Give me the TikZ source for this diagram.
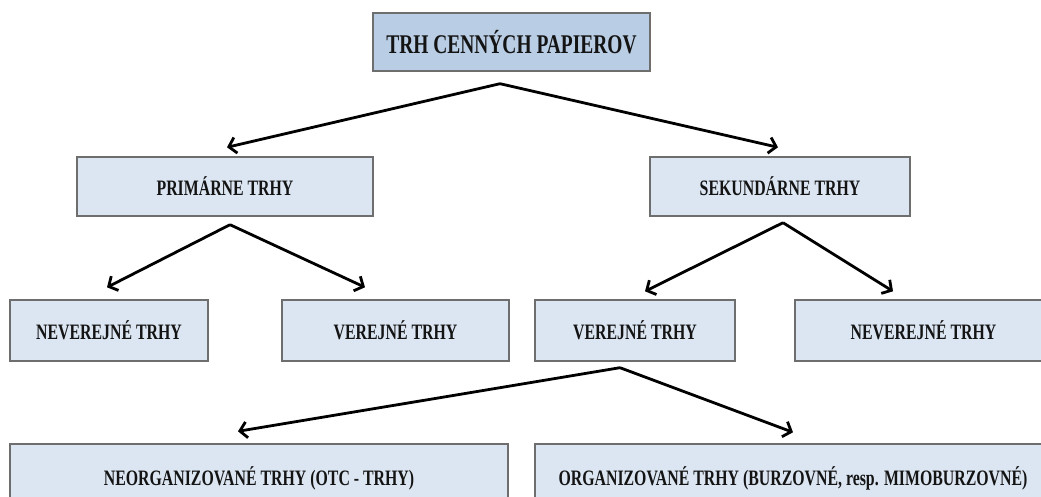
\documentclass[tikz,border=0pt]{standalone}
\usepackage{fontspec}
\setmainfont{Liberation Serif}
\usepackage{graphicx}
\usetikzlibrary{arrows.meta}
\definecolor{topfill}{HTML}{B9CDE5}
\definecolor{boxfill}{HTML}{DCE6F2}
\definecolor{boxline}{HTML}{6E6E6E}
\definecolor{txt}{HTML}{141414}
\newcommand\narrowtext[1]{\scalebox{0.72}[1]{\bfseries #1}}
\newcommand\lowtext[1]{\raisebox{-13pt}[0pt][0pt]{\narrowtext{#1}}}
\tikzset{
  box/.style={draw=boxline, line width=1.4pt, fill=boxfill, inner sep=0pt,
    font=\fontsize{22}{24}\selectfont, text=txt},
  topbox/.style={box, fill=topfill, font=\fontsize{27}{29}\selectfont},
  arr/.style={line width=2.8pt, line join=miter,
    -{Straight Barb[length=7pt,width=16pt,line width=2.8pt]}}
}
\begin{document}
\begin{tikzpicture}[x=1pt,y=-1pt]
\useasboundingbox (0,0) rectangle (1041,497);
\fill[white] (0,0) rectangle (1041,497);
\begin{scope}
\clip (0,0) rectangle (1041,497);
\node[topbox, minimum width=277pt, minimum height=58pt] (top) at (511.5,42) {\narrowtext{TRH CENNÝCH PAPIEROV}};
\node[box, minimum width=296pt, minimum height=59pt] (prim) at (225,186.5) {\narrowtext{PRIMÁRNE TRHY}};
\node[box, minimum width=260pt, minimum height=59pt] (sek) at (780,186.5) {\narrowtext{SEKUNDÁRNE TRHY}};
\node[box, minimum width=198pt, minimum height=61pt] (nevL) at (109,330.5) {\narrowtext{NEVEREJNÉ TRHY}};
\node[box, minimum width=227pt, minimum height=61pt] (verL) at (395.5,330.5) {\narrowtext{VEREJNÉ TRHY}};
\node[box, minimum width=200pt, minimum height=61pt] (verR) at (635,330.5) {\narrowtext{VEREJNÉ TRHY}};
\node[box, minimum width=257pt, minimum height=61pt] (nevR) at (923.5,330.5) {\narrowtext{NEVEREJNÉ TRHY}};
\node[box, minimum width=498pt, minimum height=56pt] (neo) at (259,472) {\lowtext{NEORGANIZOVANÉ TRHY (OTC - TRHY)}};
\node[box, minimum width=516pt, minimum height=56pt] (org) at (793,472) {\lowtext{ORGANIZOVANÉ TRHY (BURZOVNÉ, resp. MIMOBURZOVNÉ)}};
\end{scope}

\coordinate (a0) at ([shift={(-11.5,12)}]top.south);
\coordinate (a1) at ([shift={(5,8)}]prim.south);
\coordinate (a2) at ([shift={(3,6)}]sek.south);
\coordinate (a3) at ([shift={(-15,6)}]verR.south);

\draw[arr] (a0) -- ([shift={(2,-9)}]prim.north);
\draw[arr] (a0) -- ([shift={(-2,-9)}]sek.north);
\draw[arr] (a1) -- ([shift={(-2,-12)}]nevL.north);
\draw[arr] (a1) -- ([shift={(-30.5,-12)}]verL.north);
\draw[arr] (a2) -- ([shift={(10,-8)}]verR.north);
\draw[arr] (a2) -- ([shift={(-30.5,-8)}]nevR.north);
\draw[arr] (a3) -- ([shift={(-21,-12)}]neo.north);
\draw[arr] (a3) -- ([shift={(0,-11)}]org.north);
\end{tikzpicture}
\end{document}
